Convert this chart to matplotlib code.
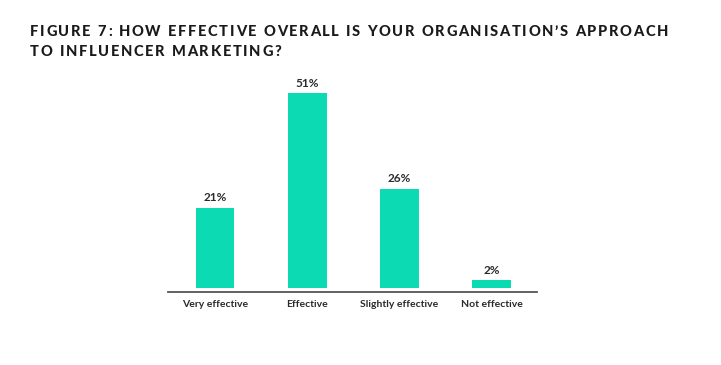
import numpy as np
import matplotlib
matplotlib.use('Agg')
import matplotlib.pyplot as plt
from matplotlib.font_manager import FontProperties

categories = ['Very effective', 'Effective', 'Slightly effective', 'Not effective']
values = [21, 51, 26, 2]
value_labels = ['21%', '51%', '26%', '2%']
title_lines = ["FIGURE 7: HOW EFFECTIVE OVERALL IS YOUR ORGANISATION\u2019S APPROACH",
               "TO INFLUENCER MARKETING?"]

bar_color = '#0cdab2'
text_color = '#2b2b2b'

plt.rcParams['font.family'] = ['Lato', 'DejaVu Sans']

W, H = 721.0, 365.0
fig = plt.figure(figsize=(7.21, 3.65), dpi=100)
# axes in pixels: x 168..537, baseline near y 292
ax = fig.add_axes([168 / W, (H - 292) / H, (537 - 168) / W, (292 - 80) / H])

x = np.arange(len(categories))
ax.bar(x, values, width=0.42, color=bar_color)
for xi, v, lab in zip(x, values, value_labels):
    ax.text(xi, v + 1.2, lab, ha='center', va='bottom', fontsize=8.5,
            fontweight='bold', color=text_color)

ax.set_xlim(-0.51, 3.49)
ax.set_ylim(-1.05, (292 - 80) / 3.82 - 1.05)
ax.set_xticks(x)
ax.set_xticklabels(categories, fontsize=7.5, fontweight='bold', color=text_color)
ax.tick_params(axis='x', length=0, pad=5.5)
ax.set_yticks([])
for s in ['top', 'left', 'right']:
    ax.spines[s].set_visible(False)
ax.spines['bottom'].set_color('#555555')
ax.spines['bottom'].set_linewidth(1.3)

# title with letter spacing (drawn char by char)
fp = FontProperties(family=['Lato', 'DejaVu Sans'], weight='black', size=10.5)
renderer = fig.canvas.get_renderer()
def textw(s):
    w, h, d = renderer.get_text_width_height_descent(s, fp, ismath=False)
    return w
sentinel_w = textw('I')
def char_offsets(line):
    return [textw(line[:i] + 'I') - sentinel_w if i > 0 else 0.0 for i in range(len(line))]

line1 = title_lines[0]
natural = textw(line1)
spacing = (638 - natural) / (len(line1) - 1)
for line, base_y in zip(title_lines, [36.5, 55.5]):
    offs = char_offsets(line)
    for i, ch in enumerate(line):
        if ch == ' ':
            continue
        px = 30 + offs[i] + i * spacing
        fig.text(px / W, 1 - base_y / H, ch, ha='left', va='baseline',
                 fontproperties=fp, color='#1a1a1a')

fig.savefig('out.png', dpi=100)
